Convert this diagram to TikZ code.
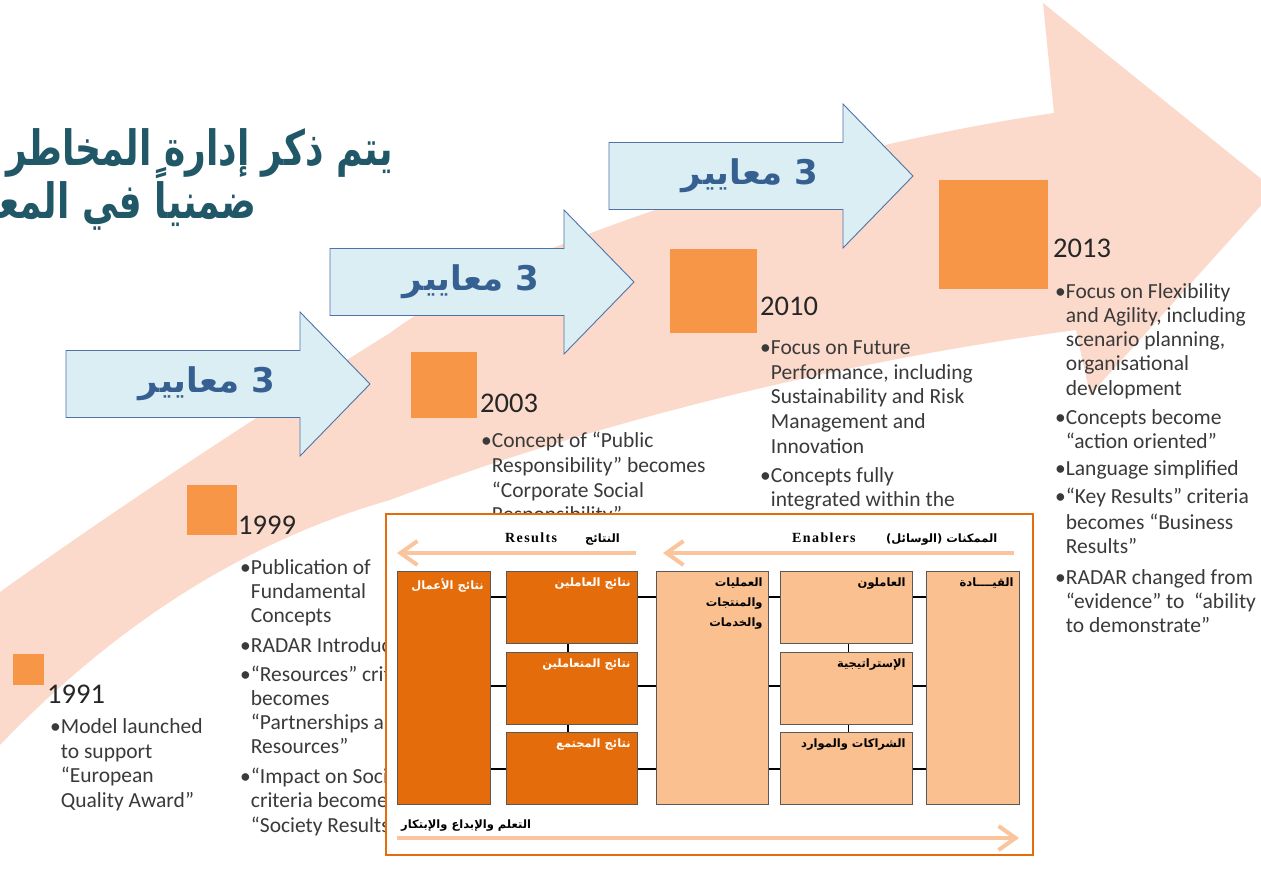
\documentclass[tikz,border=0pt]{standalone}
\usepackage{fontspec}
\setmainfont{Carlito}
\newfontfamily\arabicfont[Script=Arabic]{DejaVu Sans}
\newfontfamily\headserif[LetterSpace=10]{Liberation Serif}
\TeXXeTstate=1
\usetikzlibrary{arrows.meta}

\definecolor{bandcol}{HTML}{FBDACB}
\definecolor{squarecol}{HTML}{F79646}
\definecolor{critfill}{HTML}{DAEEF3}
\definecolor{critdraw}{HTML}{4F73A8}
\definecolor{crittext}{HTML}{366092}
\definecolor{titlecol}{HTML}{215868}
\definecolor{yearcol}{HTML}{262626}
\definecolor{bodycol}{HTML}{3A3A3A}
\definecolor{efqmdark}{HTML}{E46C0A}
\definecolor{efqmlight}{HTML}{FAC090}
\definecolor{flowcol}{HTML}{FAC49C}
\definecolor{boxline}{HTML}{595959}

\tikzset{
  sq/.style={fill=squarecol, draw=none, anchor=north west, inner sep=0},
  critarrow/.pic={\draw[fill=critfill, draw=critdraw, line width=0.9pt]
      (0,-33.5) -- (234,-33.5) -- (234,-72) -- (304,0) -- (234,72)
      -- (234,33.5) -- (0,33.5) -- cycle;},
  crit/.style={text=crittext, font=\fontsize{34}{40}\selectfont\arabicfont\bfseries, inner sep=0},
  titletxt/.style={text=titlecol, font=\fontsize{36}{44}\selectfont\arabicfont\bfseries, inner sep=0, anchor=base east},
  year/.style={text=yearcol, font=\fontsize{28.5}{34}\selectfont, inner sep=0, anchor=base west},
  body/.style={text=bodycol, font=\fontsize{21.5}{24}\selectfont, inner sep=0, anchor=base west},
  resbox/.style={fill=efqmdark, draw=boxline, line width=0.8pt, anchor=north west, inner sep=0},
  enbbox/.style={fill=efqmlight, draw=boxline, line width=0.8pt, anchor=north west, inner sep=0},
  boxlbl/.style={font=\fontsize{11.5}{20}\selectfont\arabicfont\bfseries, inner sep=0, anchor=north east, align=right},
  conn/.style={draw=black, line width=1.6pt},
  flow/.style={draw=flowcol, line width=4pt, -{Straight Barb[length=17pt,width=24pt]}},
  headlat/.style={font=\fontsize{14}{16}\selectfont\headserif\bfseries, inner sep=0, anchor=base west},
  headar/.style={font=\fontsize{11.5}{13}\selectfont\arabicfont\bfseries, inner sep=0, anchor=base west},
}

\begin{document}
\begin{tikzpicture}[x=1pt,y=-1pt]
\useasboundingbox (0,0) rectangle (1261,873);
\clip (0,0) rectangle (1261,873);
\fill[white] (0,0) rectangle (1261,873);

% rising band with its arrow head
\fill[bandcol] (0,745) .. controls (120,620) and (250,540) .. (390,500)
  .. controls (600,420) and (850,360) .. (1076,330)
  -- (1090,395) -- (1275,190) -- (1043,3) -- (1054,113)
  .. controls (800,150) and (500,250) .. (390,333)
  .. controls (250,420) and (100,520) .. (0,592) -- cycle;

% title
\node[titletxt] (title1) at (393,165) {\scalebox{1}[1.35]{\beginR يتم ذكر إدارة المخاطر\endR}};
\node[titletxt] (title2) at (257,218) {\scalebox{1}[1.35]{\beginR ضمنياً في المعايير\endR}};

% criteria arrows
\pic at (66,384) {critarrow};
\node[crit] (crit1) at (207,384) {\beginR 3 معايير\endR};
\pic at (330,282) {critarrow};
\node[crit] (crit2) at (471,282) {\beginR 3 معايير\endR};
\pic at (609,176) {critarrow};
\node[crit] (crit3) at (750,176) {\beginR 3 معايير\endR};

% milestone squares
\node[sq, minimum size=31] (sq1991) at (13,654) {};
\node[sq, minimum size=50] (sq1999) at (187,485) {};
\node[sq, minimum size=66] (sq2003) at (411,352) {};
\node[sq, minimum width=87, minimum height=84] (sq2010) at (670,249) {};
\node[sq, minimum size=109] (sq2013) at (939,180) {};

% years
\node[year] (y1991) at (47,703) {1991};
\node[year] (y1999) at (238,534) {1999};
\node[year] (y2003) at (480,412) {2003};
\node[year] (y2010) at (760,315) {2010};
\node[year] (y2013) at (1053,257) {2013};

% milestone notes
\foreach \yy/\tt [count=\i] in {
  733/{\textbullet Model launched},
  758/{\phantom{\textbullet}to support},
  782/{\phantom{\textbullet}“European},
  807/{\phantom{\textbullet}Quality Award”}}
  \node[body] (n1991-\i) at (50,\yy) {\tt};

\foreach \yy/\tt [count=\i] in {
  574/{\textbullet Publication of},
  598/{\phantom{\textbullet}Fundamental},
  622/{\phantom{\textbullet}Concepts},
  652/{\textbullet RADAR Introduced},
  681/{\textbullet “Resources” criteria},
  705/{\phantom{\textbullet}becomes},
  729/{\phantom{\textbullet}“Partnerships and},
  753/{\phantom{\textbullet}Resources”},
  783/{\textbullet “Impact on Society”},
  807/{\phantom{\textbullet}criteria becomes},
  832/{\phantom{\textbullet}“Society Results”}}
  \node[body] (n1999-\i) at (240,\yy) {\tt};

\foreach \yy/\tt [count=\i] in {
  447/{\textbullet Concept of “Public},
  472/{\phantom{\textbullet}Responsibility” becomes},
  497/{\phantom{\textbullet}“Corporate Social},
  521/{\phantom{\textbullet}Responsibility”}}
  \node[body] (n2003-\i) at (481,\yy) {\tt};

\foreach \yy/\tt [count=\i] in {
  354/{\textbullet Focus on Future},
  379/{\phantom{\textbullet}Performance, including},
  403/{\phantom{\textbullet}Sustainability and Risk},
  428/{\phantom{\textbullet}Management and},
  453/{\phantom{\textbullet}Innovation},
  482/{\textbullet Concepts fully},
  506/{\phantom{\textbullet}integrated within the}}
  \node[body] (n2010-\i) at (760,\yy) {\tt};

\foreach \yy/\tt [count=\i] in {
  298/{\textbullet Focus on Flexibility},
  322/{\phantom{\textbullet}and Agility, including},
  346/{\phantom{\textbullet}scenario planning,},
  370/{\phantom{\textbullet}organisational},
  395/{\phantom{\textbullet}development},
  424/{\textbullet Concepts become},
  448/{\phantom{\textbullet}“action oriented”},
  475/{\textbullet Language simplified},
  503/{\textbullet “Key Results” criteria},
  529/{\phantom{\textbullet}becomes “Business},
  553/{\phantom{\textbullet}Results”},
  584/{\textbullet RADAR changed from},
  608/{\phantom{\textbullet}“evidence” to\ \ “ability},
  632/{\phantom{\textbullet}to demonstrate”}}
  \node[body] (n2013-\i) at (1055,\yy) {\tt};

% EFQM model panel
\node[draw=efqmdark, line width=1.6pt, fill=white, anchor=north west, inner sep=0,
      minimum width=647, minimum height=341] (efqm) at (385,513) {};

\coordinate (resR) at (636,553);
\coordinate (resL) at (397,553);
\coordinate (enbR) at (1014,553);
\coordinate (enbL) at (663,553);
\coordinate (lrnL) at (397,838);
\coordinate (lrnR) at (1019,838);
\draw[flow] (resR) -- (resL);
\draw[flow] (enbR) -- (enbL);
\draw[flow] (lrnL) -- (lrnR);

\node[headlat] (reslbl) at (505,542) {Results};
\node[headar] (resar) at (585,542) {\beginR النتائج\endR};
\node[headlat] (enblbl) at (792,542) {Enablers};
\node[headar] (enbar) at (886,542) {\beginR الممكنات (الوسائل)\endR};
\node[headar] (lrnlbl) at (401,828) {\beginR التعلم والإبداع والإبتكار\endR};

% criteria boxes
\node[resbox, minimum width=93, minimum height=233] (br) at (397,571) {};
\node[resbox, minimum width=131, minimum height=72] (pr) at (506,571) {};
\node[resbox, minimum width=131, minimum height=72] (cr) at (506,652) {};
\node[resbox, minimum width=131, minimum height=72] (sr) at (506,732) {};
\node[enbbox, minimum width=112, minimum height=233] (proc) at (656,571) {};
\node[enbbox, minimum width=132, minimum height=72] (pe) at (780,571) {};
\node[enbbox, minimum width=132, minimum height=72] (st) at (780,652) {};
\node[enbbox, minimum width=132, minimum height=72] (pa) at (780,732) {};
\node[enbbox, minimum width=93, minimum height=233] (ld) at (926,571) {};

% links between the criteria (offset measured down from the left box's top)
\foreach \a/\b/\d in {br/pr/26, br/cr/115, br/sr/198,
                      pr/proc/26, cr/proc/34, sr/proc/37,
                      proc/pe/26, proc/st/115, proc/pa/198,
                      pe/ld/26, st/ld/34, pa/ld/37}
  \draw[conn] ([yshift=-\d pt]\a.north east) -- ([yshift=-\d pt]\a.north east -| \b.west);
\draw[conn] ([xshift=-4pt]pr.south) -- ([xshift=-4pt]cr.north);
\draw[conn] ([xshift=-4pt]cr.south) -- ([xshift=-4pt]sr.north);
\draw[conn] ([xshift=2pt]pe.south) -- ([xshift=2pt]st.north);
\draw[conn] ([xshift=2pt]st.south) -- ([xshift=2pt]pa.north);

% box captions
\node[boxlbl, text=white] (brl) at ([xshift=-7pt,yshift=-7pt]br.north east) {\beginR نتائج الأعمال\endR};
\node[boxlbl, text=white] (prl) at ([xshift=-7pt,yshift=-7pt]pr.north east) {\beginR نتائج العاملين\endR};
\node[boxlbl, text=white] (crl) at ([xshift=-7pt,yshift=-7pt]cr.north east) {\beginR نتائج المتعاملين\endR};
\node[boxlbl, text=white] (srl) at ([xshift=-7pt,yshift=-7pt]sr.north east) {\beginR نتائج المجتمع\endR};
\node[boxlbl] (procl) at ([xshift=-6pt,yshift=-7pt]proc.north east) {\beginR العمليات\endR\\\beginR والمنتجات\endR\\\beginR والخدمات\endR};
\node[boxlbl] (pel) at ([xshift=-7pt,yshift=-7pt]pe.north east) {\beginR العاملون\endR};
\node[boxlbl] (stl) at ([xshift=-7pt,yshift=-7pt]st.north east) {\beginR الإستراتيجية\endR};
\node[boxlbl] (pal) at ([xshift=-7pt,yshift=-7pt]pa.north east) {\beginR الشراكات والموارد\endR};
\node[boxlbl] (ldl) at ([xshift=-6pt,yshift=-7pt]ld.north east) {\beginR القيــــادة\endR};
\end{tikzpicture}
\end{document}
